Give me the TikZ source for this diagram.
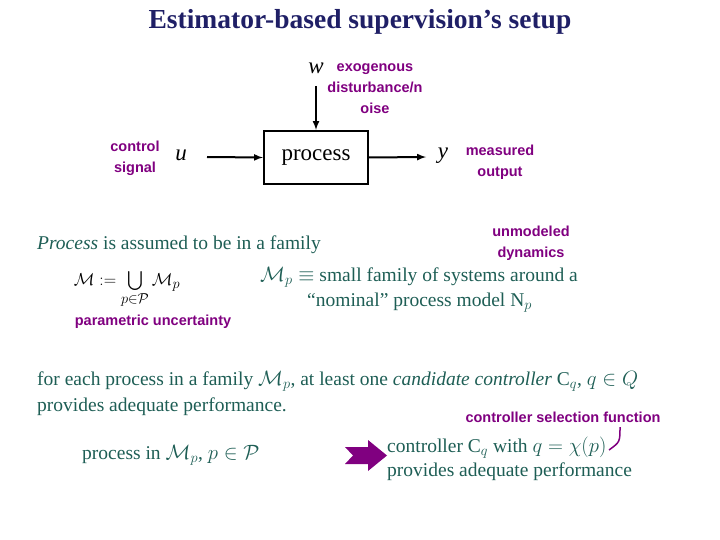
\documentclass[tikz,border=0pt]{standalone}
\usepackage{fontspec}
\setmainfont{Liberation Serif}
\newfontfamily\lab{Liberation Sans}
\usepackage{amssymb}
\begin{document}
\definecolor{teal1}{HTML}{1E5E55}
\definecolor{purp}{HTML}{800080}
\definecolor{navy}{HTML}{1F1F66}
\begin{tikzpicture}[x=1pt,y=-1pt,
 lbl/.style={font=\lab\fontsize{14.5}{21}\selectfont\bfseries,text=purp,align=center,inner sep=0},
 body/.style={font=\fontsize{19.5}{22}\selectfont,text=teal1,inner sep=0,anchor=west},
 sig/.style={font=\fontsize{23}{24}\selectfont\itshape,inner sep=0},
 arr/.style={line width=2pt,-latex}]
\useasboundingbox (0,0) rectangle (720,540);
\node[font=\fontsize{27.5}{30}\selectfont\bfseries,text=navy] (title) at (360,22) {Estimator-based supervision’s setup};
\node[draw,line width=2.2pt,minimum width=104,minimum height=53,font=\fontsize{23}{24}\selectfont] (proc) at (316,157.5) {process};
\node[sig] (w) at (316,68) {w};
\coordinate (wt) at (316,86);
\draw[arr] (wt) -- (proc.north);
\node[sig] (u) at (181,155) {u};
\coordinate (us) at (207,157);
\draw[arr] (us) -- (proc.west);
\coordinate (ye) at (426,157);
\draw[arr] (proc.east) -- (ye);
\node[sig] (y) at (443,156) {y};
\node[lbl] (ctl) at (135,158) {control\\signal};
\node[lbl] (exo) at (375,89) {exogenous\\disturbance/n\\oise};
\node[lbl] (meas) at (500,162) {measured\\output};
\node[lbl] (unm) at (531,243) {unmodeled\\dynamics};
\node[body] (l1) at (37,245) {\textit{Process} is assumed to be in a family};
\node[inner sep=0,font=\fontsize{19}{21}\selectfont] (fam) at (127,290) {$\mathcal{M} := \bigcup\limits_{p\in\mathcal{P}} \mathcal{M}_p$};
\node[lbl] (par) at (153,322) {parametric uncertainty};
\node[body] (mp) at (260,277) {$\mathcal{M}_p\equiv$ small family of systems around a};
\node[body] (nom) at (307,303) {“nominal” process model N$_p$};
\node[body] (fe) at (37,381) {for each process in a family $\mathcal{M}_p$, at least one \textit{candidate controller} C$_q$, $q\in Q$};
\node[body] (pa) at (37,407) {provides adequate performance.};
\node[lbl] (csf) at (563,417) {controller selection function};
\node[body] (pin) at (82,455) {process in $\mathcal{M}_p$, $p\in\mathcal{P}$};
\node[body] (cq) at (387,448) {controller C$_q$ with $q=\chi(p)$};
\node[body] (pa2) at (387,472) {provides adequate performance};
\fill[purp] (345,447) -- (368,447) -- (368,440) -- (387,455.5) -- (368,471) -- (368,464) -- (345,464) -- (353,455.5) -- cycle;
\coordinate (cs) at (620,427);
\coordinate (ce) at (609,450);
\draw[purp,line width=1.5pt] (cs) .. controls (620,442) .. (ce);
\end{tikzpicture}
\end{document}
